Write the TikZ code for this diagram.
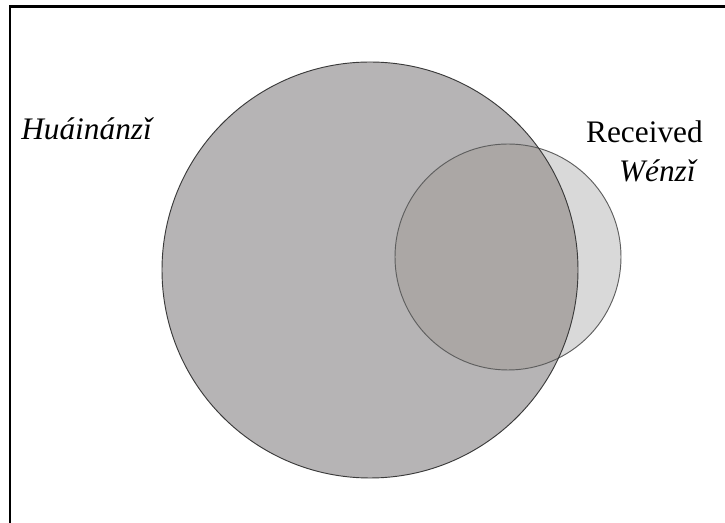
\documentclass[tikz,border=0pt]{standalone}
\usepackage{fontspec}
\setmainfont{Liberation Serif}
\usetikzlibrary{positioning}
\definecolor{bigfill}{HTML}{B6B4B5}
\definecolor{smallfill}{HTML}{D9D9D9}
\definecolor{bothfill}{HTML}{ABA7A5}
\definecolor{bigline}{HTML}{3A3A3A}
\definecolor{smallline}{HTML}{5E5E5E}

\begin{document}
\begin{tikzpicture}[
    x=0.75pt,y=-0.75pt,
    setname/.style={font=\fontsize{23.5}{29}\selectfont,inner sep=0pt},
    frame/.style={line width=2.2pt,draw=black}
  ]
    \useasboundingbox (0,0) rectangle (725,523);
    % frame, only left and top edges are in view
    \coordinate (fbl) at (10,523);
    \coordinate (ftl) at (10,6.5);
    \coordinate (ftr) at (725,6.5);
    \draw[frame] (fbl) -- (ftl) -- (ftr);
    % the two sets
    \coordinate (huaic) at (370,270);
    \coordinate (wenc) at (508,257);
    \fill[bigfill] (huaic) circle[radius=208];
    \fill[smallfill] (wenc) circle[radius=113];
    \begin{scope}
      \clip (huaic) circle[radius=208];
      \fill[bothfill] (wenc) circle[radius=113];
    \end{scope}
    \draw[smallline,line width=0.7pt] (wenc) circle[radius=113];
    \draw[bigline,line width=0.7pt] (huaic) circle[radius=208];
    % labels
    \node[setname,anchor=base west] (huai) at (21,140) {\textit{Huáinánzǐ}};
    \node[setname,anchor=base east] (rec) at (703,143) {Received};
    \node[setname,anchor=base east] (wen) at (698,182) {\textit{Wénzǐ}};
  \end{tikzpicture}
\end{document}
